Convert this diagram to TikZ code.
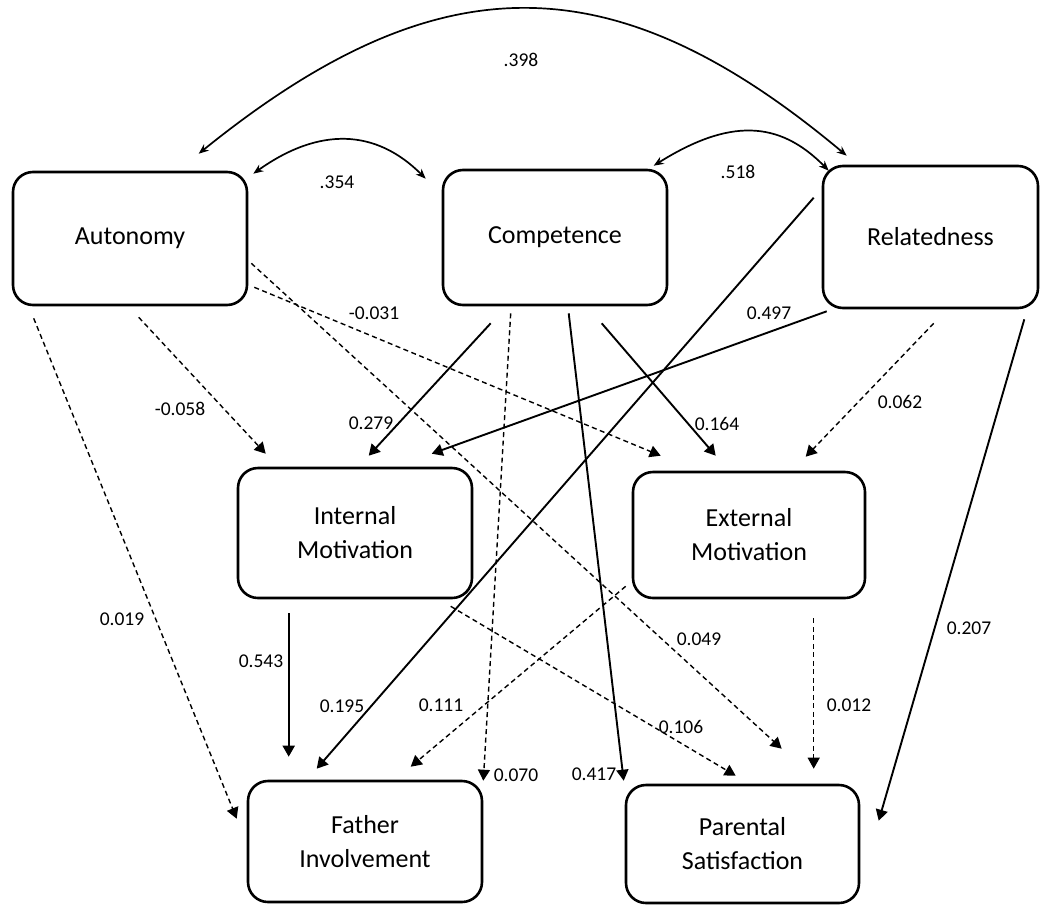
\documentclass[tikz,border=0pt]{standalone}
\usepackage{fontspec}
\setmainfont{Carlito}
\usetikzlibrary{arrows.meta,calc}
\begin{document}
\begin{tikzpicture}[x=1pt,y=-1pt,
  box/.style={draw, line width=2.6pt, rounded corners=20pt, align=center,
    font=\fontsize{26}{34}\selectfont, inner sep=0pt},
  pathsolid/.style={line width=1.9pt, -{Triangle[length=11pt,width=12pt]}},
  pathdash/.style={line width=1.4pt, dash pattern=on 5pt off 3.5pt,
    -{Triangle[length=11pt,width=12pt]}},
  corr/.style={line width=1.7pt,
    {Stealth[length=10pt,width=8pt]}-{Stealth[length=10pt,width=8pt]}},
  coef/.style={font=\fontsize{19.5}{22}\selectfont, inner sep=0pt}]

\useasboundingbox (0,0) rectangle (1041,905);
\fill[white] (0,0) rectangle (1041,905);

% constructs
\node[box, minimum width=234pt, minimum height=133pt] (aut)  at (130,238.5) {Autonomy};
\node[box, minimum width=224pt, minimum height=135pt] (comp) at (555,237.5) {Competence};
\node[box, minimum width=215pt, minimum height=142pt] (rel)  at (930.5,237) {Relatedness};
\node[box, minimum width=234pt, minimum height=130pt] (intm) at (355,533) {Internal\\Motivation};
\node[box, minimum width=232pt, minimum height=126pt] (extm) at (749,535) {External\\Motivation};
\node[box, minimum width=234pt, minimum height=121pt] (fath) at (365,841.5) {Father\\Involvement};
\node[box, minimum width=233pt, minimum height=118pt] (pars) at (742.5,844) {Parental\\Satisfaction};

% correlations among the needs
\draw[corr] ($(aut.north west)+(187,-17)$) .. controls +(239,-193) and +(-234,-196) .. ($(rel.north west)+(25,-9)$);
\draw[corr] ($(aut.north east)+(5,3)$) .. controls +(66,-47) and +(-50,-50) .. ($(comp.north west)+(-16,10)$);
\draw[corr] ($(comp.north west)+(212,-3)$) .. controls +(75,-47) and +(-50,-51) .. ($(rel.north west)+(7,6)$);

% paths from Autonomy
\draw[pathdash] ($(aut.south west)+(127,11)$) -- ($(intm.north west)+(29,-13)$);
\draw[pathdash] ($(aut.south east)+(6,-19)$) -- ($(extm.north west)+(29,-15)$);
\draw[pathdash] ($(aut.south east)+(3,-43)$) -- ($(pars.north west)+(157,-35)$);
\draw[pathdash] ($(aut.south west)+(22,12)$) -- ($(fath.north west)+(-10,39)$);

% paths from Competence
\draw[pathsolid] ($(comp.south west)+(49,17)$) -- ($(intm.north west)+(132,-11)$);
\draw[pathdash]  ($(comp.south west)+(69,7)$) -- ($(fath.north east)+(0,1)$);
\draw[pathsolid] ($(comp.south west)+(127,7)$) -- ($(pars.north west)+(-1,-3)$);
\draw[pathsolid] ($(comp.south west)+(160,17)$) -- ($(extm.north west)+(84,-15)$);

% paths from Relatedness
\draw[pathsolid] ($(rel.south west)+(5,2)$) -- ($(intm.north west)+(195,-13)$);
\draw[pathsolid] ($(rel.north west)+(-8,33)$) -- ($(fath.north west)+(70,-11)$);
\draw[pathdash]  ($(rel.south west)+(112,14)$) -- ($(extm.north west)+(174,-14)$);
\draw[pathsolid] ($(rel.south east)+(-15,10)$) -- ($(pars.north west)+(254,37)$);

% paths from the motivations
\draw[pathsolid] ($(intm.south west)+(52,14)$) -- ($(fath.north west)+(42,-23)$);
\draw[pathdash]  ($(intm.south west)+(214,7)$) -- ($(pars.north west)+(111,-8)$);
\draw[pathdash]  ($(extm.south west)+(-6,-13)$) -- ($(fath.north west)+(164,-13)$);
\draw[pathdash]  ($(extm.south west)+(182,19)$) -- ($(pars.north west)+(189,-15)$);

% coefficients
\node[coef] (c398) at (521,60)  {.398};
\node[coef] (c354) at (337,182) {.354};
\node[coef] (c518) at (738,172) {.518};
\node[coef] (c031) at (374,313) {-0.031};
\node[coef] (c058) at (180,409) {-0.058};
\node[coef] (c279) at (371,423) {0.279};
\node[coef] (c497) at (769,313) {0.497};
\node[coef] (c164) at (717,424) {0.164};
\node[coef] (c062) at (900,402) {0.062};
\node[coef] (c019) at (122,619) {0.019};
\node[coef] (c543) at (261,661) {0.543};
\node[coef] (c195) at (342,706) {0.195};
\node[coef] (c111) at (441,705) {0.111};
\node[coef] (c070) at (516,775) {0.070};
\node[coef] (c417) at (594,774) {0.417};
\node[coef] (c049) at (699,639) {0.049};
\node[coef] (c106) at (681,727) {0.106};
\node[coef] (c012) at (849,705) {0.012};
\node[coef] (c207) at (969,628) {0.207};
\end{tikzpicture}
\end{document}
